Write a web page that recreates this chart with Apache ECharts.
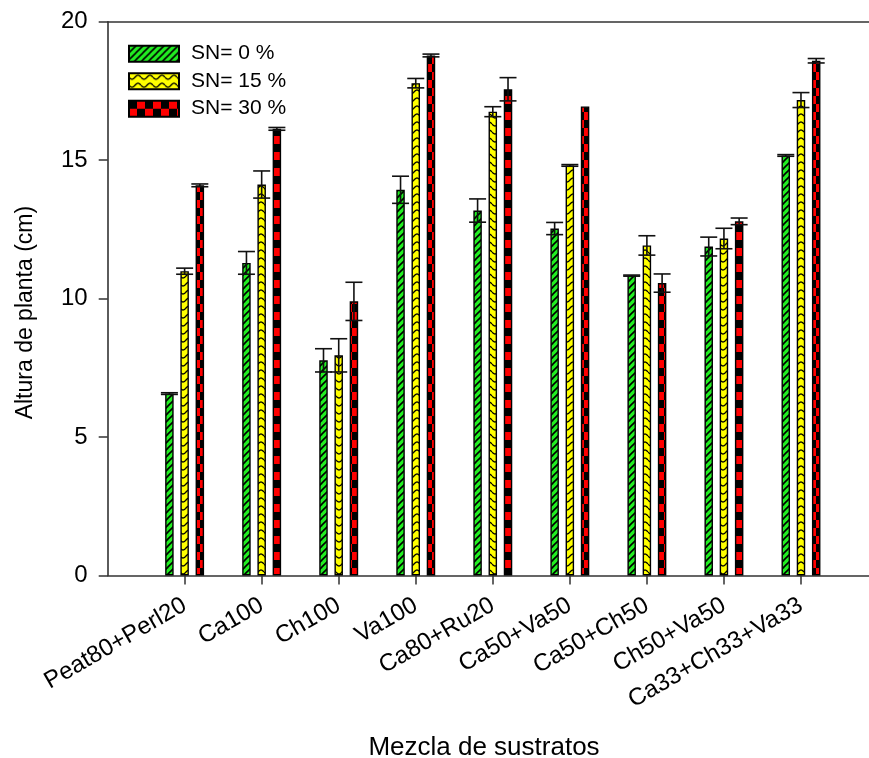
<!DOCTYPE html>
<html>
<head>
<meta charset="utf-8">
<script src="https://cdn.jsdelivr.net/npm/echarts@6/dist/echarts.min.js"></script>
<style>
html,body{margin:0;padding:0;background:#fff;}
#chart{width:869px;height:758px;}
</style>
</head>
<body>
<div id="chart"></div>
<script>
// ---- data ----
const categories = ['Peat80+Perl20','Ca100','Ch100','Va100','Ca80+Ru20','Ca50+Va50','Ca50+Ch50','Ch50+Va50','Ca33+Ch33+Va33'];
const seriesNames = ['SN= 0 %','SN= 15 %','SN= 30 %'];
const sn0  = [6.57, 11.29, 7.77, 13.93, 13.18, 12.53, 10.83, 11.88, 15.17];
const sn15 = [10.99, 14.12, 7.95, 17.78, 16.75, 14.81, 11.92, 12.17, 17.17];
const sn30 = [14.09, 16.13, 9.90, 18.78, 17.56, 16.94, 10.56, 12.79, 18.59];
const err0  = [0.03, 0.41, 0.42, 0.49, 0.42, 0.22, 0.02, 0.34, 0.03];
const err15 = [0.11, 0.49, 0.60, 0.17, 0.18, 0.03, 0.35, 0.37, 0.27];
const err30 = [0.05, 0.05, 0.69, 0.05, 0.42, 0.00, 0.33, 0.12, 0.08];
const yTicks = [0, 5, 10, 15, 20];

// ---- style ----
const FONT = "'Liberation Sans', Arial, sans-serif";
const BAR_W = 8.5;
const BAR_GAP = 0.79;
const CAP_W = 17;

function makePattern(kind) {
  const c = document.createElement('canvas');
  let ctx;
  if (kind === 'green') {
    c.width = 7; c.height = 7; ctx = c.getContext('2d');
    ctx.fillStyle = '#22ee22'; ctx.fillRect(0,0,7,7);
    ctx.strokeStyle = '#000'; ctx.lineWidth = 1.6;
    [-7,0,7].forEach(k => { ctx.beginPath(); ctx.moveTo(k-1, 8); ctx.lineTo(k+8, -1); ctx.stroke(); });
  } else if (kind === 'yellow') {
    c.width = 12; c.height = 8; ctx = c.getContext('2d');
    ctx.fillStyle = '#ffff00'; ctx.fillRect(0,0,12,8);
    ctx.strokeStyle = '#000'; ctx.lineWidth = 1.3;
    ctx.beginPath();
    for (let x = 0; x <= 12; x += 0.5) {
      const y = 4 + 2 * Math.sin(2 * Math.PI * x / 12);
      if (x === 0) ctx.moveTo(x, y); else ctx.lineTo(x, y);
    }
    ctx.stroke();
  } else {
    c.width = 16; c.height = 16; ctx = c.getContext('2d');
    ctx.fillStyle = '#ff0000'; ctx.fillRect(0,0,16,16);
    ctx.fillStyle = '#000'; ctx.fillRect(0,0,8,8); ctx.fillRect(8,8,8,8);
  }
  return { image: c, repeat: 'repeat' };
}
const patterns = [makePattern('green'), makePattern('yellow'), makePattern('red')];
const values = [sn0, sn15, sn30];
const errors = [err0, err15, err30];

const chart = echarts.init(document.getElementById('chart'), null, {renderer: 'canvas'});

const barSeries = seriesNames.map((name, s) => ({
  name: name,
  type: 'bar',
  xAxisIndex: 0, yAxisIndex: 1,
  barWidth: BAR_W,
  barGap: (BAR_GAP * 100) + '%',
  data: values[s],
  itemStyle: { color: patterns[s], borderColor: '#000', borderWidth: 1.4 },
  emphasis: { disabled: true },
  z: 2
}));

const errSeries = seriesNames.map((name, s) => ({
  type: 'custom',
  xAxisIndex: 0, yAxisIndex: 1,
  z: 5,
  silent: true,
  data: values[s].map((v, i) => [i, v, errors[s][i]]),
  encode: { x: 0, y: 1 },
  renderItem: function (params, api) {
    const i = api.value(0), m = api.value(1), e = api.value(2);
    if (!e) return null;
    const off = (s - 1) * BAR_W * (1 + BAR_GAP);
    const c = api.coord([i, m]);
    const hi = api.coord([i, m + e]);
    const lo = api.coord([i, m - e]);
    const x = c[0] + off;
    const st = { stroke: '#111', lineWidth: 1.6 };
    return {
      type: 'group',
      children: [
        { type: 'line', shape: { x1: x, y1: hi[1], x2: x, y2: lo[1] }, style: st },
        { type: 'line', shape: { x1: x - CAP_W/2, y1: hi[1], x2: x + CAP_W/2, y2: hi[1] }, style: st },
        { type: 'line', shape: { x1: x - CAP_W/2, y1: lo[1], x2: x + CAP_W/2, y2: lo[1] }, style: st }
      ]
    };
  }
}));

const frameLine = { show: true, lineStyle: { color: '#333', width: 1.6 } };

const option = {
  backgroundColor: '#ffffff',
  animation: false,
  textStyle: { fontFamily: FONT },
  title: {
    text: 'Mezcla de sustratos',
    left: 479, top: 730, textAlign: 'center',
    textStyle: { fontSize: 26, fontWeight: 'normal', color: '#000', fontFamily: FONT }
  },
  legend: {
    data: seriesNames,
    orient: 'vertical',
    left: 128, top: 42.7,
    padding: 0,
    itemWidth: 50, itemHeight: 16, itemGap: 5.5,
    icon: 'rect',
    selectedMode: false,
    textStyle: { fontSize: 21, color: '#000', fontFamily: FONT, lineHeight: 22, padding: [0, 0, 0, 7] }
  },
  grid: [
    { left: 107.7, right: 0, top: 21.7, height: 553.8 },
    { left: 146.1, right: 29.5, top: 21.7, height: 553.8 }
  ],
  xAxis: [
    {
      type: 'category', gridIndex: 1, data: categories,
      axisLine: { show: false },
      axisTick: { show: true, alignWithLabel: true, length: 9, lineStyle: { color: '#333', width: 1.5 } },
      axisLabel: { interval: 0, rotate: 30, fontSize: 24, margin: 28, color: '#000', fontFamily: FONT },
      splitLine: { show: false }
    },
    {
      type: 'value', gridIndex: 0, min: 0, max: 1, position: 'bottom',
      axisLine: frameLine, axisTick: { show: false }, axisLabel: { show: false }, splitLine: { show: false }
    },
    {
      type: 'value', gridIndex: 0, min: 0, max: 1, position: 'top',
      axisLine: frameLine, axisTick: { show: false }, axisLabel: { show: false }, splitLine: { show: false }
    }
  ],
  yAxis: [
    {
      type: 'value', gridIndex: 0,
      min: yTicks[0], max: yTicks[yTicks.length - 1], interval: yTicks[1] - yTicks[0],
      name: 'Altura de planta (cm)', nameLocation: 'middle', nameGap: 71,
      nameTextStyle: { fontSize: 23, color: '#000', fontFamily: FONT, padding: [0, 28, 0, 0] },
      axisLine: frameLine,
      axisTick: { show: true, length: 9, lineStyle: { color: '#333', width: 1.5 } },
      axisLabel: { fontSize: 24, margin: 20, color: '#000', fontFamily: FONT },
      splitLine: { show: false }
    },
    {
      type: 'value', gridIndex: 1, show: false,
      min: yTicks[0], max: yTicks[yTicks.length - 1], interval: yTicks[1] - yTicks[0],
      splitLine: { show: false }
    }
  ],
  series: barSeries.concat(errSeries)
};
chart.setOption(option);
</script>
</body>
</html>
